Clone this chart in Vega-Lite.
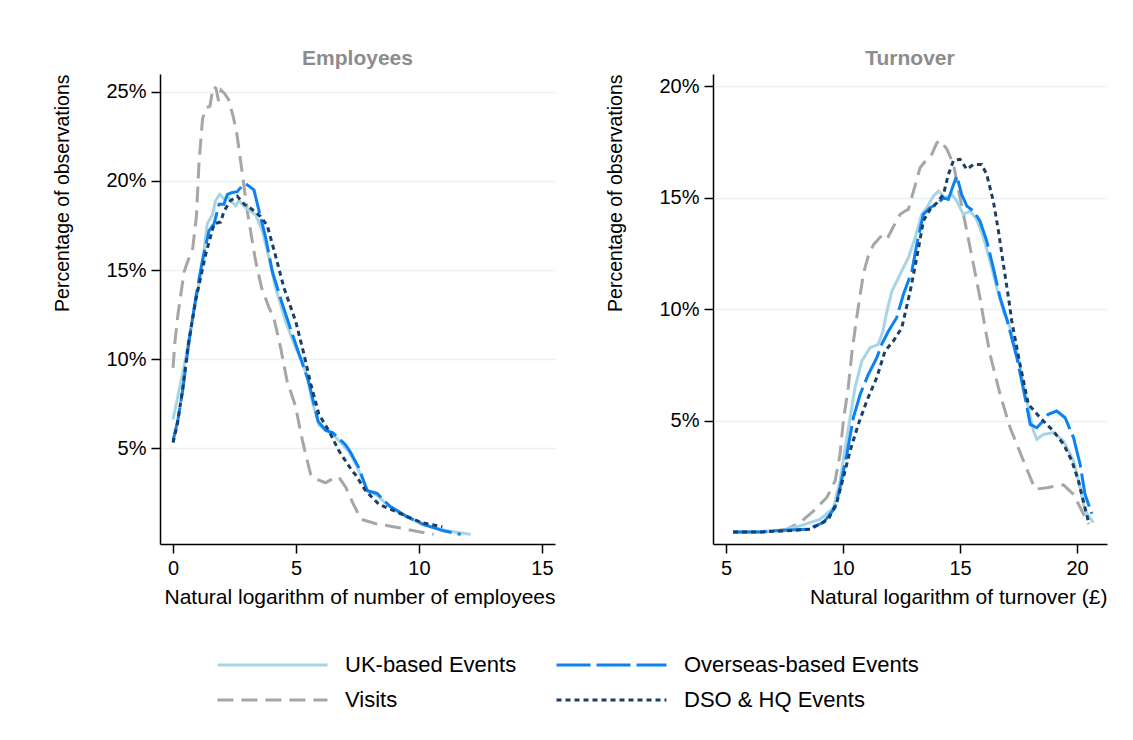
{
"$schema": "https://vega.github.io/schema/vega-lite/v6.json",
"background": "white",
"padding": {"left": 52, "top": 48, "right": 5, "bottom": 5},
"datasets": {
"emp": [
{"s":"Visits","x":0,"y":9.5},{"s":"Visits","x":0.08,"y":11.0},{"s":"Visits","x":0.2,"y":12.5},{"s":"Visits","x":0.45,"y":14.9},{"s":"Visits","x":0.6,"y":15.5},{"s":"Visits","x":0.79,"y":16.1},{"s":"Visits","x":0.95,"y":18.0},{"s":"Visits","x":1.06,"y":21.1},{"s":"Visits","x":1.2,"y":23.5},{"s":"Visits","x":1.35,"y":24.1},{"s":"Visits","x":1.5,"y":24.2},{"s":"Visits","x":1.63,"y":25.3},{"s":"Visits","x":1.75,"y":25.2},{"s":"Visits","x":1.85,"y":24.5},{"s":"Visits","x":1.95,"y":25.1},{"s":"Visits","x":2.1,"y":24.9},{"s":"Visits","x":2.25,"y":24.6},{"s":"Visits","x":2.45,"y":23.6},{"s":"Visits","x":2.6,"y":22.6},{"s":"Visits","x":2.75,"y":21.1},{"s":"Visits","x":3.02,"y":18.3},{"s":"Visits","x":3.2,"y":16.8},{"s":"Visits","x":3.36,"y":15.5},{"s":"Visits","x":3.6,"y":14.0},{"s":"Visits","x":3.9,"y":12.9},{"s":"Visits","x":4.1,"y":12.3},{"s":"Visits","x":4.38,"y":10.6},{"s":"Visits","x":4.63,"y":8.8},{"s":"Visits","x":4.99,"y":7.3},{"s":"Visits","x":5.2,"y":5.8},{"s":"Visits","x":5.39,"y":4.66},{"s":"Visits","x":5.6,"y":3.5},{"s":"Visits","x":5.73,"y":3.3},{"s":"Visits","x":6.2,"y":3.05},{"s":"Visits","x":6.61,"y":3.37},{"s":"Visits","x":6.75,"y":3.35},{"s":"Visits","x":7.02,"y":2.8},{"s":"Visits","x":7.35,"y":1.8},{"s":"Visits","x":7.64,"y":1.0},{"s":"Visits","x":8.25,"y":0.75},{"s":"Visits","x":9.19,"y":0.52},{"s":"Visits","x":10.0,"y":0.3},{"s":"Visits","x":10.6,"y":0.15},
{"s":"UK-based Events","x":0,"y":6.6},{"s":"UK-based Events","x":0.24,"y":8.2},{"s":"UK-based Events","x":0.52,"y":10.1},{"s":"UK-based Events","x":0.79,"y":12.3},{"s":"UK-based Events","x":1.0,"y":13.8},{"s":"UK-based Events","x":1.19,"y":15.3},{"s":"UK-based Events","x":1.39,"y":17.6},{"s":"UK-based Events","x":1.6,"y":18.1},{"s":"UK-based Events","x":1.73,"y":18.9},{"s":"UK-based Events","x":1.9,"y":19.25},{"s":"UK-based Events","x":2.07,"y":19.0},{"s":"UK-based Events","x":2.21,"y":19.15},{"s":"UK-based Events","x":2.34,"y":18.9},{"s":"UK-based Events","x":2.55,"y":18.6},{"s":"UK-based Events","x":2.68,"y":18.9},{"s":"UK-based Events","x":2.95,"y":18.5},{"s":"UK-based Events","x":3.36,"y":18.1},{"s":"UK-based Events","x":3.63,"y":17.2},{"s":"UK-based Events","x":3.9,"y":15.7},{"s":"UK-based Events","x":4.17,"y":14.0},{"s":"UK-based Events","x":4.58,"y":12.1},{"s":"UK-based Events","x":4.99,"y":10.6},{"s":"UK-based Events","x":5.26,"y":9.9},{"s":"UK-based Events","x":5.53,"y":8.5},{"s":"UK-based Events","x":5.66,"y":7.6},{"s":"UK-based Events","x":5.93,"y":6.3},{"s":"UK-based Events","x":6.2,"y":6.0},{"s":"UK-based Events","x":6.48,"y":5.8},{"s":"UK-based Events","x":7.02,"y":5.0},{"s":"UK-based Events","x":7.15,"y":4.8},{"s":"UK-based Events","x":7.5,"y":3.9},{"s":"UK-based Events","x":7.9,"y":2.6},{"s":"UK-based Events","x":8.24,"y":2.4},{"s":"UK-based Events","x":8.78,"y":1.74},{"s":"UK-based Events","x":9.46,"y":1.18},{"s":"UK-based Events","x":10.13,"y":0.71},{"s":"UK-based Events","x":11.08,"y":0.37},{"s":"UK-based Events","x":12.1,"y":0.15},
{"s":"Overseas-based Events","x":0,"y":5.4},{"s":"Overseas-based Events","x":0.2,"y":6.6},{"s":"Overseas-based Events","x":0.4,"y":8.3},{"s":"Overseas-based Events","x":0.65,"y":11.0},{"s":"Overseas-based Events","x":0.92,"y":13.4},{"s":"Overseas-based Events","x":1.19,"y":15.5},{"s":"Overseas-based Events","x":1.46,"y":17.2},{"s":"Overseas-based Events","x":1.67,"y":17.6},{"s":"Overseas-based Events","x":1.87,"y":18.7},{"s":"Overseas-based Events","x":2.07,"y":18.7},{"s":"Overseas-based Events","x":2.21,"y":19.25},{"s":"Overseas-based Events","x":2.41,"y":19.35},{"s":"Overseas-based Events","x":2.61,"y":19.4},{"s":"Overseas-based Events","x":2.79,"y":19.7},{"s":"Overseas-based Events","x":2.95,"y":19.85},{"s":"Overseas-based Events","x":3.1,"y":19.7},{"s":"Overseas-based Events","x":3.29,"y":19.5},{"s":"Overseas-based Events","x":3.5,"y":18.3},{"s":"Overseas-based Events","x":3.77,"y":16.8},{"s":"Overseas-based Events","x":4.04,"y":14.9},{"s":"Overseas-based Events","x":4.44,"y":13.1},{"s":"Overseas-based Events","x":4.85,"y":11.4},{"s":"Overseas-based Events","x":5.12,"y":10.3},{"s":"Overseas-based Events","x":5.5,"y":8.8},{"s":"Overseas-based Events","x":5.9,"y":6.5},{"s":"Overseas-based Events","x":6.2,"y":6.0},{"s":"Overseas-based Events","x":6.5,"y":5.85},{"s":"Overseas-based Events","x":7.0,"y":5.2},{"s":"Overseas-based Events","x":7.2,"y":4.8},{"s":"Overseas-based Events","x":7.55,"y":3.9},{"s":"Overseas-based Events","x":7.9,"y":2.6},{"s":"Overseas-based Events","x":8.3,"y":2.45},{"s":"Overseas-based Events","x":8.8,"y":1.75},{"s":"Overseas-based Events","x":9.5,"y":1.15},{"s":"Overseas-based Events","x":10.2,"y":0.7},{"s":"Overseas-based Events","x":11.0,"y":0.35},{"s":"Overseas-based Events","x":11.7,"y":0.15},
{"s":"DSO & HQ Events","x":0,"y":5.3},{"s":"DSO & HQ Events","x":0.17,"y":6.3},{"s":"DSO & HQ Events","x":0.38,"y":8.2},{"s":"DSO & HQ Events","x":0.62,"y":10.8},{"s":"DSO & HQ Events","x":0.92,"y":13.3},{"s":"DSO & HQ Events","x":1.33,"y":15.9},{"s":"DSO & HQ Events","x":1.67,"y":17.6},{"s":"DSO & HQ Events","x":1.94,"y":17.7},{"s":"DSO & HQ Events","x":2.07,"y":18.3},{"s":"DSO & HQ Events","x":2.34,"y":18.9},{"s":"DSO & HQ Events","x":2.61,"y":19.15},{"s":"DSO & HQ Events","x":2.89,"y":18.7},{"s":"DSO & HQ Events","x":3.22,"y":18.4},{"s":"DSO & HQ Events","x":3.56,"y":18.0},{"s":"DSO & HQ Events","x":3.83,"y":17.5},{"s":"DSO & HQ Events","x":4.11,"y":16.1},{"s":"DSO & HQ Events","x":4.51,"y":14.0},{"s":"DSO & HQ Events","x":4.99,"y":12.1},{"s":"DSO & HQ Events","x":5.3,"y":10.4},{"s":"DSO & HQ Events","x":5.6,"y":8.6},{"s":"DSO & HQ Events","x":5.93,"y":6.9},{"s":"DSO & HQ Events","x":6.34,"y":5.95},{"s":"DSO & HQ Events","x":6.75,"y":4.83},{"s":"DSO & HQ Events","x":7.29,"y":3.7},{"s":"DSO & HQ Events","x":7.42,"y":3.5},{"s":"DSO & HQ Events","x":7.83,"y":2.6},{"s":"DSO & HQ Events","x":8.37,"y":1.84},{"s":"DSO & HQ Events","x":9.32,"y":1.27},{"s":"DSO & HQ Events","x":10.13,"y":0.8},{"s":"DSO & HQ Events","x":10.95,"y":0.58}
],
"turn": [
{"s":"Visits","x":5.3,"y":0.0},{"s":"Visits","x":6.5,"y":0.0},{"s":"Visits","x":7.0,"y":0.05},{"s":"Visits","x":7.59,"y":0.12},{"s":"Visits","x":8.16,"y":0.42},{"s":"Visits","x":8.73,"y":0.94},{"s":"Visits","x":9.3,"y":1.54},{"s":"Visits","x":9.66,"y":2.29},{"s":"Visits","x":9.87,"y":3.49},{"s":"Visits","x":10.01,"y":4.98},{"s":"Visits","x":10.22,"y":6.48},{"s":"Visits","x":10.37,"y":7.98},{"s":"Visits","x":10.55,"y":9.4},{"s":"Visits","x":10.87,"y":11.6},{"s":"Visits","x":11.08,"y":12.4},{"s":"Visits","x":11.3,"y":12.9},{"s":"Visits","x":11.6,"y":13.25},{"s":"Visits","x":11.85,"y":13.1},{"s":"Visits","x":12.15,"y":13.7},{"s":"Visits","x":12.44,"y":14.26},{"s":"Visits","x":12.65,"y":14.41},{"s":"Visits","x":12.79,"y":14.48},{"s":"Visits","x":13.01,"y":15.3},{"s":"Visits","x":13.29,"y":16.35},{"s":"Visits","x":13.58,"y":16.73},{"s":"Visits","x":13.79,"y":16.95},{"s":"Visits","x":14.01,"y":17.47},{"s":"Visits","x":14.15,"y":17.58},{"s":"Visits","x":14.44,"y":17.18},{"s":"Visits","x":14.72,"y":16.5},{"s":"Visits","x":15.0,"y":15.0},{"s":"Visits","x":15.29,"y":13.5},{"s":"Visits","x":15.57,"y":12.02},{"s":"Visits","x":15.85,"y":10.52},{"s":"Visits","x":16.07,"y":9.17},{"s":"Visits","x":16.28,"y":7.98},{"s":"Visits","x":16.71,"y":6.18},{"s":"Visits","x":17.14,"y":4.68},{"s":"Visits","x":17.71,"y":3.19},{"s":"Visits","x":18.21,"y":1.92},{"s":"Visits","x":18.71,"y":1.99},{"s":"Visits","x":19.42,"y":2.11},{"s":"Visits","x":19.85,"y":1.69},{"s":"Visits","x":20.21,"y":0.94},{"s":"Visits","x":20.5,"y":0.35},
{"s":"UK-based Events","x":5.3,"y":0.0},{"s":"UK-based Events","x":6.5,"y":0.02},{"s":"UK-based Events","x":7.5,"y":0.1},{"s":"UK-based Events","x":8.16,"y":0.27},{"s":"UK-based Events","x":9.02,"y":0.57},{"s":"UK-based Events","x":9.59,"y":1.09},{"s":"UK-based Events","x":9.87,"y":2.29},{"s":"UK-based Events","x":10.09,"y":3.78},{"s":"UK-based Events","x":10.3,"y":5.13},{"s":"UK-based Events","x":10.51,"y":6.48},{"s":"UK-based Events","x":10.8,"y":7.67},{"s":"UK-based Events","x":11.15,"y":8.27},{"s":"UK-based Events","x":11.5,"y":8.42},{"s":"UK-based Events","x":11.7,"y":9.0},{"s":"UK-based Events","x":11.85,"y":9.8},{"s":"UK-based Events","x":12.08,"y":10.8},{"s":"UK-based Events","x":12.44,"y":11.57},{"s":"UK-based Events","x":12.79,"y":12.31},{"s":"UK-based Events","x":13.08,"y":13.21},{"s":"UK-based Events","x":13.36,"y":14.26},{"s":"UK-based Events","x":13.58,"y":14.56},{"s":"UK-based Events","x":13.86,"y":15.08},{"s":"UK-based Events","x":14.08,"y":15.3},{"s":"UK-based Events","x":14.36,"y":15.0},{"s":"UK-based Events","x":14.65,"y":15.15},{"s":"UK-based Events","x":14.86,"y":14.86},{"s":"UK-based Events","x":15.14,"y":14.26},{"s":"UK-based Events","x":15.43,"y":14.41},{"s":"UK-based Events","x":15.71,"y":14.03},{"s":"UK-based Events","x":16.0,"y":13.21},{"s":"UK-based Events","x":16.28,"y":12.16},{"s":"UK-based Events","x":16.57,"y":10.97},{"s":"UK-based Events","x":16.85,"y":9.92},{"s":"UK-based Events","x":17.14,"y":9.17},{"s":"UK-based Events","x":17.49,"y":7.82},{"s":"UK-based Events","x":17.85,"y":5.88},{"s":"UK-based Events","x":18.14,"y":4.53},{"s":"UK-based Events","x":18.28,"y":4.16},{"s":"UK-based Events","x":18.56,"y":4.38},{"s":"UK-based Events","x":18.99,"y":4.46},{"s":"UK-based Events","x":19.42,"y":4.08},{"s":"UK-based Events","x":19.85,"y":3.19},{"s":"UK-based Events","x":20.13,"y":1.99},{"s":"UK-based Events","x":20.34,"y":0.94},{"s":"UK-based Events","x":20.7,"y":0.42},
{"s":"Overseas-based Events","x":5.3,"y":0.0},{"s":"Overseas-based Events","x":6.5,"y":0.0},{"s":"Overseas-based Events","x":7.5,"y":0.08},{"s":"Overseas-based Events","x":8.45,"y":0.12},{"s":"Overseas-based Events","x":9.16,"y":0.42},{"s":"Overseas-based Events","x":9.66,"y":1.09},{"s":"Overseas-based Events","x":9.87,"y":1.99},{"s":"Overseas-based Events","x":10.16,"y":3.49},{"s":"Overseas-based Events","x":10.44,"y":5.13},{"s":"Overseas-based Events","x":10.73,"y":6.18},{"s":"Overseas-based Events","x":11.08,"y":7.08},{"s":"Overseas-based Events","x":11.44,"y":7.82},{"s":"Overseas-based Events","x":11.65,"y":8.42},{"s":"Overseas-based Events","x":11.94,"y":9.02},{"s":"Overseas-based Events","x":12.29,"y":9.62},{"s":"Overseas-based Events","x":12.58,"y":10.67},{"s":"Overseas-based Events","x":12.94,"y":11.71},{"s":"Overseas-based Events","x":13.15,"y":12.91},{"s":"Overseas-based Events","x":13.43,"y":14.26},{"s":"Overseas-based Events","x":13.72,"y":14.56},{"s":"Overseas-based Events","x":14.01,"y":14.71},{"s":"Overseas-based Events","x":14.29,"y":15.0},{"s":"Overseas-based Events","x":14.5,"y":14.93},{"s":"Overseas-based Events","x":14.72,"y":15.6},{"s":"Overseas-based Events","x":14.86,"y":15.98},{"s":"Overseas-based Events","x":15.07,"y":15.15},{"s":"Overseas-based Events","x":15.29,"y":14.63},{"s":"Overseas-based Events","x":15.57,"y":14.41},{"s":"Overseas-based Events","x":15.85,"y":13.96},{"s":"Overseas-based Events","x":16.14,"y":13.06},{"s":"Overseas-based Events","x":16.42,"y":11.86},{"s":"Overseas-based Events","x":16.71,"y":10.52},{"s":"Overseas-based Events","x":17.0,"y":9.55},{"s":"Overseas-based Events","x":17.43,"y":7.82},{"s":"Overseas-based Events","x":17.78,"y":6.03},{"s":"Overseas-based Events","x":18.0,"y":4.83},{"s":"Overseas-based Events","x":18.28,"y":4.68},{"s":"Overseas-based Events","x":18.49,"y":4.91},{"s":"Overseas-based Events","x":18.77,"y":5.28},{"s":"Overseas-based Events","x":19.13,"y":5.43},{"s":"Overseas-based Events","x":19.49,"y":5.13},{"s":"Overseas-based Events","x":19.85,"y":4.23},{"s":"Overseas-based Events","x":20.13,"y":3.04},{"s":"Overseas-based Events","x":20.34,"y":1.69},{"s":"Overseas-based Events","x":20.63,"y":0.82},
{"s":"DSO & HQ Events","x":5.3,"y":0.0},{"s":"DSO & HQ Events","x":6.5,"y":0.0},{"s":"DSO & HQ Events","x":7.5,"y":0.05},{"s":"DSO & HQ Events","x":8.59,"y":0.12},{"s":"DSO & HQ Events","x":9.37,"y":0.57},{"s":"DSO & HQ Events","x":9.73,"y":1.32},{"s":"DSO & HQ Events","x":10.01,"y":2.44},{"s":"DSO & HQ Events","x":10.3,"y":3.64},{"s":"DSO & HQ Events","x":10.65,"y":4.83},{"s":"DSO & HQ Events","x":11.01,"y":5.88},{"s":"DSO & HQ Events","x":11.44,"y":6.93},{"s":"DSO & HQ Events","x":11.79,"y":8.12},{"s":"DSO & HQ Events","x":12.15,"y":8.57},{"s":"DSO & HQ Events","x":12.51,"y":9.17},{"s":"DSO & HQ Events","x":12.87,"y":10.82},{"s":"DSO & HQ Events","x":13.15,"y":12.31},{"s":"DSO & HQ Events","x":13.43,"y":13.96},{"s":"DSO & HQ Events","x":13.72,"y":14.48},{"s":"DSO & HQ Events","x":14.01,"y":14.78},{"s":"DSO & HQ Events","x":14.29,"y":15.15},{"s":"DSO & HQ Events","x":14.5,"y":16.05},{"s":"DSO & HQ Events","x":14.72,"y":16.68},{"s":"DSO & HQ Events","x":15.0,"y":16.73},{"s":"DSO & HQ Events","x":15.29,"y":16.28},{"s":"DSO & HQ Events","x":15.57,"y":16.5},{"s":"DSO & HQ Events","x":15.92,"y":16.5},{"s":"DSO & HQ Events","x":16.14,"y":16.05},{"s":"DSO & HQ Events","x":16.42,"y":14.86},{"s":"DSO & HQ Events","x":16.64,"y":13.51},{"s":"DSO & HQ Events","x":16.85,"y":12.02},{"s":"DSO & HQ Events","x":17.07,"y":10.52},{"s":"DSO & HQ Events","x":17.21,"y":9.47},{"s":"DSO & HQ Events","x":17.56,"y":7.53},{"s":"DSO & HQ Events","x":17.92,"y":5.73},{"s":"DSO & HQ Events","x":18.42,"y":5.13},{"s":"DSO & HQ Events","x":18.99,"y":4.53},{"s":"DSO & HQ Events","x":19.42,"y":3.94},{"s":"DSO & HQ Events","x":19.78,"y":3.19},{"s":"DSO & HQ Events","x":20.06,"y":2.29},{"s":"DSO & HQ Events","x":20.34,"y":1.09},{"s":"DSO & HQ Events","x":20.48,"y":0.49}
]
},
"config": {
"font": "Liberation Sans",
"view": {"stroke": null},
"axis": {"domainColor": "#000", "domainWidth": 1.5, "tickColor": "#000", "tickWidth": 1.5, "tickSize": 9, "labelFontSize": 20, "labelColor": "#000", "labelPadding": 5, "titleFontSize": 21, "titleFontWeight": "normal", "titleColor": "#000", "grid": false},
"title": {"fontSize": 21, "fontWeight": "bold", "color": "#8c8c8c", "offset": 5},
"legend": {"labelFontSize": 22, "labelColor": "#000", "labelLimit": 0, "symbolType": "stroke", "symbolSize": 12100, "symbolStrokeWidth": 3, "labelOffset": 16, "columnPadding": 38, "rowPadding": 11, "clipHeight": 24, "padding": 0},
"concat": {"spacing": 50}
},
"resolve": {"scale": {"color": "shared", "strokeDash": "shared"}},
"hconcat": [
{
"title": {"text": "Employees", "anchor": "middle"},
"width": 395, "height": 470,
"data": {"name": "emp"},
"mark": {"type": "line", "strokeWidth": 3},
"encoding": {
"x": {"field": "x", "type": "quantitative", "scale": {"domain": [-0.53, 15.53], "nice": false, "zero": false}, "axis": {"values": [0, 5, 10, 15], "title": "Natural logarithm of number of employees", "titleAnchor": "end", "titlePadding": 8}},
"y": {"field": "y", "type": "quantitative", "scale": {"domain": [-0.39, 26.01], "nice": false, "zero": false}, "axis": {"values": [5, 10, 15, 20, 25], "labelExpr": "datum.value + '%'", "title": "Percentage of observations", "titleAnchor": "end", "titlePadding": 33, "titleFontSize": 19.5, "grid": true, "gridColor": "#e9f1f3", "gridWidth": 1.5}},
"color": {"field": "s", "type": "nominal", "scale": {"domain": ["UK-based Events", "Visits", "Overseas-based Events", "DSO & HQ Events"], "range": ["#a8d5e4", "#a6a6a6", "#0b82f4", "#1c3f66"]}, "legend": {"orient": "none", "legendX": 56, "legendY": 579, "columns": 2, "title": null}},
"strokeDash": {"field": "s", "type": "nominal", "scale": {"domain": ["UK-based Events", "Visits", "Overseas-based Events", "DSO & HQ Events"], "range": [[1, 0], [16, 8], [34, 6], [5, 4]]}, "legend": {"orient": "none", "legendX": 56, "legendY": 579, "columns": 2, "title": null}}
}
},
{
"title": {"text": "Turnover", "anchor": "middle"},
"width": 394, "height": 470,
"data": {"name": "turn"},
"mark": {"type": "line", "strokeWidth": 3},
"encoding": {
"x": {"field": "x", "type": "quantitative", "scale": {"domain": [4.44, 21.28], "nice": false, "zero": false}, "axis": {"values": [5, 10, 15, 20], "title": "Natural logarithm of turnover (£)", "titleAnchor": "end", "titlePadding": 8}},
"y": {"field": "y", "type": "quantitative", "scale": {"domain": [-0.54, 20.56], "nice": false, "zero": false}, "axis": {"values": [5, 10, 15, 20], "labelExpr": "datum.value + '%'", "title": "Percentage of observations", "titleAnchor": "end", "titlePadding": 33, "titleFontSize": 19.5, "grid": true, "gridColor": "#e9f1f3", "gridWidth": 1.5}},
"color": {"field": "s", "type": "nominal", "legend": {"orient": "none", "legendX": 56, "legendY": 579, "columns": 2, "title": null}},
"strokeDash": {"field": "s", "type": "nominal", "legend": {"orient": "none", "legendX": 56, "legendY": 579, "columns": 2, "title": null}}
}
}
]
}
